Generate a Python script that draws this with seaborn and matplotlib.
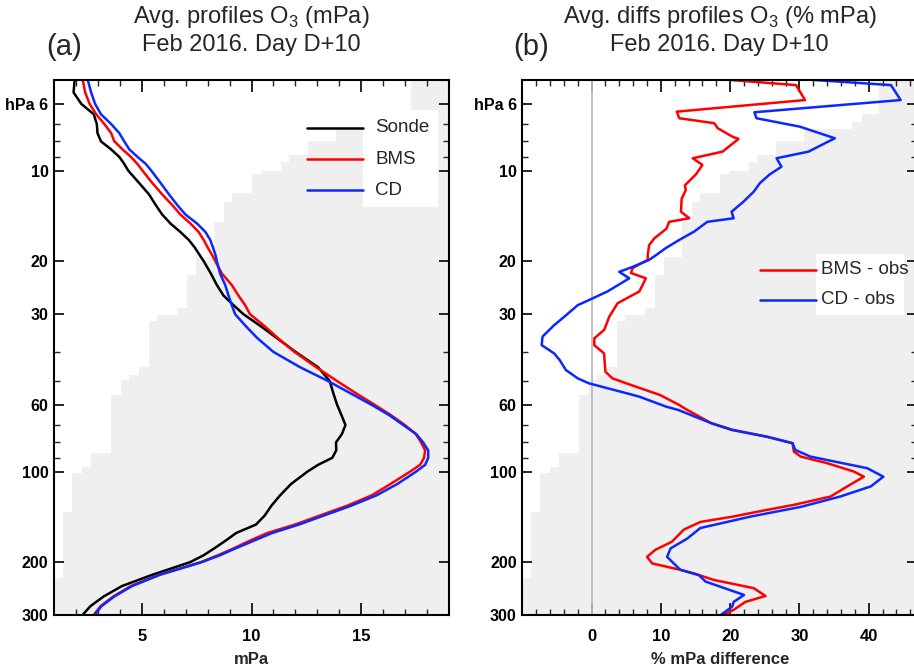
import pandas as pd
import seaborn as sns
import matplotlib.pyplot as plt
from matplotlib import font_manager
from matplotlib.patches import Rectangle
from matplotlib.ticker import FixedLocator, NullFormatter

# ---- data ----
# panel (a): average ozone partial pressure profiles (mPa) on pressure levels (hPa)
levels = [5, 5.5, 6, 6.5, 7, 7.5, 8, 8.5, 9, 9.5, 10, 11, 12, 13, 14, 15, 16, 17, 18, 19,
          20, 22, 24, 26, 28, 30, 33, 36, 40, 45, 50, 55, 60, 65, 70, 75, 80, 85, 90, 95,
          100, 110, 120, 130, 140, 150, 160, 170, 180, 190, 200, 220, 240, 260, 280, 300]
sonde = [1.94, 1.89, 2.24, 2.81, 2.95, 2.98, 3.14, 3.60, 3.97, 4.20, 4.38, 4.88, 5.33, 5.63,
         5.93, 6.31, 6.76, 7.14, 7.41, 7.62, 7.82, 8.15, 8.42, 8.72, 9.18, 9.63, 10.45, 11.15,
         12.0, 13.03, 13.56, 13.73, 13.9, 14.1, 14.28, 14.12, 13.85, 13.86, 13.68, 13.03,
         12.55, 11.8, 11.3, 10.9, 10.6, 10.2, 9.3, 8.8, 8.3, 7.8, 7.2, 5.5, 4.1, 3.26, 2.66, 2.29]
bms = [2.31, 2.42, 2.62, 2.92, 3.29, 3.60, 3.75, 4.12, 4.50, 4.80, 5.03, 5.48, 5.93, 6.38,
       6.76, 7.22, 7.59, 7.82, 8.00, 8.19, 8.35, 8.65, 9.10, 9.40, 9.71, 9.93, 10.62, 11.2,
       11.95, 12.95, 13.89, 14.77, 15.61, 16.36, 16.98, 17.48, 17.73, 17.91, 17.86, 17.68,
       17.23, 16.33, 15.47, 14.34, 13.11, 11.98, 10.72, 9.90, 9.18, 8.45, 7.68, 5.80, 4.50,
       3.70, 3.12, 2.80]
cd = [2.54, 2.69, 2.87, 3.14, 3.60, 3.97, 4.20, 4.43, 4.80, 5.18, 5.43, 5.86, 6.24, 6.61,
      6.99, 7.52, 7.90, 8.12, 8.24, 8.35, 8.42, 8.57, 8.80, 8.95, 9.10, 9.25, 9.76, 10.26,
      10.99, 12.21, 13.48, 14.52, 15.47, 16.28, 16.91, 17.50, 17.82, 18.05, 18.05, 17.91,
      17.50, 16.64, 15.69, 14.52, 13.29, 12.16, 10.94, 10.08, 9.27, 8.54, 7.73, 5.85, 4.56,
      3.75, 3.16, 2.85]

# panel (b): percent differences model - obs
bms_p = [5.0, 5.2, 5.83, 6.37, 6.70, 6.96, 7.23, 7.72, 7.85, 8.65, 9.10, 9.58, 10.3, 11.2,
         11.6, 12.4, 13.7, 14.4, 14.8, 15.6, 16.8, 17.7, 19.1, 19.8, 21.1, 21.9, 22.8, 25.2,
         27.6, 30.6, 33.8, 36.1, 38.0, 40.5, 46.6, 49.0, 50.9, 55.7, 60.0, 62.4, 69.1, 72.7,
         76.6, 80.5, 85.9, 89.2, 93.8, 100, 104, 112, 121, 129, 136, 141, 147, 156, 171, 182,
         192, 202, 212, 218, 229, 244, 259, 271, 288, 300]
bms_diff = [20.0, 29.5, 30.8, 12.3, 12.65, 17.7, 18.2, 20.35, 21.2, 18.9, 14.6, 16.0, 15.05,
            13.46, 13.6, 13.0, 12.9, 14.1, 11.2, 10.8, 9.05, 8.3, 8.1, 8.1, 5.9, 5.7, 7.84,
            6.9, 3.75, 2.55, 1.83, 0.39, 0.39, 1.8, 2.0, 3.0, 5.0, 9.9, 12.6, 13.8, 17.3, 20.4,
            25.3, 29.0, 29.2, 30.2, 34.0, 37.85, 39.3, 36.9, 34.5, 29.2, 23.9, 20.5, 15.7, 13.3,
            11.6, 9.2, 8.0, 8.76, 12.8, 14.8, 17.6, 23.4, 25.1, 22.2, 20.5, 18.9]
cd_p = [5.0, 5.2, 5.83, 6.40, 6.70, 7.15, 7.33, 7.81, 8.65, 9.10, 9.71, 10.3, 11.0, 11.75,
        12.7, 13.7, 14.4, 14.8, 15.95, 17.0, 18.1, 19.1, 19.8, 20.9, 21.7, 22.8, 23.7, 25.2,
        26.9, 28.0, 30.6, 32.6, 35.6, 38.0, 40.5, 42.6, 46.0, 49.0, 50.9, 55.0, 56.4, 60.9,
        62.4, 69.1, 72.7, 76.6, 80.5, 84.8, 89.2, 97.5, 104, 112, 121, 131, 141, 154, 167,
        180, 192, 212, 221, 232, 257, 271, 281, 300]
cd_diff = [32.1, 43.2, 44.6, 23.5, 23.8, 30.1, 31.5, 35.1, 31.3, 26.7, 27.4, 25.7, 24.3,
           23.4, 21.9, 20.2, 20.5, 16.7, 14.8, 12.65, 10.7, 9.3, 8.3, 5.9, 4.0, 5.44, 4.23,
           2.31, -0.33, -2.0, -3.94, -5.38, -7.07, -7.2, -5.4, -4.6, -3.7, -2.0, -0.4, 5.15,
           6.9, 10.8, 12.5, 17.3, 20.2, 25.3, 29.0, 29.4, 31.6, 39.8, 42.1, 40.3, 35.9, 30.2,
           23.0, 15.7, 13.8, 11.4, 10.9, 12.8, 15.5, 16.45, 22.0, 20.5, 20.3, 18.6]

# grey background staircase (fraction of the panel width where shading starts, by level)
cov_p = [5, 6.5, 6.9, 7.3, 8.0, 8.9, 9.4, 10.0, 10.3, 11.9, 12.7, 14.8, 19.4, 22.2, 28.6,
         30.2, 31.6, 44.9, 47.8, 49.6, 55.6, 86.7, 96.5, 101, 136, 225, 300]
cov_frac = [0.903, 0.860, 0.835, 0.714, 0.643, 0.595, 0.575, 0.524, 0.501, 0.451, 0.430,
            0.405, 0.359, 0.337, 0.311, 0.261, 0.241, 0.215, 0.190, 0.170, 0.144, 0.094,
            0.071, 0.046, 0.023, 0.0, 0.0]

p_major = [6, 10, 20, 30, 60, 100, 200, 300]
p_labels = ["hPa 6", "10", "20", "30", "60", "100", "200", "300"]
p_minor = [7, 8, 9, 40, 50, 70, 80, 90]

# ---- style ----
sns.set_style("white")
names = {f.name for f in font_manager.fontManager.ttflist}
narrow = "Liberation Sans Narrow" if "Liberation Sans Narrow" in names else "Liberation Sans"
plt.rcParams["font.family"] = [narrow, "DejaVu Sans"]
plt.rcParams["mathtext.fontset"] = "custom"
plt.rcParams["mathtext.rm"] = narrow

RED, BLUE, SHADE = "#ff0000", "#0a28ff", "#efefef"

left = pd.DataFrame({
    "p": levels * 3,
    "val": sonde + bms + cd,
    "series": ["Sonde"] * len(levels) + ["BMS"] * len(levels) + ["CD"] * len(levels),
})
right = pd.DataFrame({
    "p": bms_p + cd_p,
    "val": bms_diff + cd_diff,
    "series": ["BMS - obs"] * len(bms_p) + ["CD - obs"] * len(cd_p),
})

fig = plt.figure(figsize=(9.14, 6.67), dpi=100)
ax1 = fig.add_axes([0.0591, 0.0777, 0.4322, 0.8024])
ax2 = fig.add_axes([0.5714, 0.0777, 0.4322, 0.8024])


def setup(ax, xlim, xmajor, xminor):
    ax.set_yscale("log")
    ax.fill_betweenx(cov_p, cov_frac, 1, step="post", color=SHADE, lw=0,
                     transform=ax.get_yaxis_transform(), zorder=0)
    ax.set_xlim(*xlim)
    ax.set_ylim(300, 5)
    ax.set_yticks(p_major)
    ax.set_yticklabels(p_labels)
    ax.yaxis.set_minor_locator(FixedLocator(p_minor))
    ax.yaxis.set_minor_formatter(NullFormatter())
    ax.set_xticks(xmajor)
    ax.xaxis.set_minor_locator(FixedLocator(xminor))
    ax.tick_params(axis="x", which="major", direction="in", length=8.5, width=1.2,
                   top=True, bottom=True, pad=10, labelsize=12, colors="black")
    ax.tick_params(axis="x", which="minor", direction="in", length=4.3, width=1.0,
                   top=True, bottom=True)
    ax.tick_params(axis="y", which="major", direction="in", length=7.2, width=1.2,
                   left=True, right=True, pad=4, labelsize=11.5, colors="black")
    ax.tick_params(axis="y", which="minor", direction="in", length=4.3, width=1.0,
                   left=True, right=True)
    for lab in ax.get_xticklabels() + ax.get_yticklabels():
        lab.set_fontweight("bold")
    for sp in ax.spines.values():
        sp.set_color("black")
        sp.set_linewidth(1.5)


def legend_box(ax, entries, x0, x1, xt, box):
    bx0, by0, bx1, by1 = box
    ax.add_patch(Rectangle((bx0, by0), bx1 - bx0, by1 - by0, transform=ax.transAxes,
                           facecolor="white", edgecolor="none", zorder=4))
    for label, color, y in entries:
        ax.plot([x0, x1], [y, y], color=color, lw=1.8, transform=ax.transAxes, zorder=5)
        ax.text(xt, y, label, transform=ax.transAxes, va="center", ha="left",
                fontsize=13.5, family=["Liberation Sans", "DejaVu Sans"], zorder=6)


# panel (a)
setup(ax1, (1, 19), [5, 10, 15], list(range(2, 19)))
sns.lineplot(data=left, x="val", y="p", hue="series", sort=False, estimator=None,
             orient="y", palette={"Sonde": "black", "BMS": RED, "CD": BLUE},
             lw=1.8, legend=False, ax=ax1)
ax1.set_xlabel("mPa", fontsize=12, fontweight="bold", labelpad=6)
ax1.set_ylabel("")
legend_box(ax1, [("Sonde", "black", 0.911), ("BMS", RED, 0.852), ("CD", BLUE, 0.794)],
           0.640, 0.783, 0.813, (0.783, 0.763, 0.972, 0.944))

# panel (b)
setup(ax2, (-10, 47), [0, 10, 20, 30, 40], list(range(-8, 47, 2)))
ax2.axvline(0, color="#bdbdbd", lw=1.3, zorder=1)
sns.lineplot(data=right, x="val", y="p", hue="series", sort=False, estimator=None,
             orient="y", palette={"BMS - obs": RED, "CD - obs": BLUE},
             lw=1.8, legend=False, ax=ax2)
ax2.set_xlabel("% mPa difference", fontsize=12, fontweight="bold", labelpad=6)
ax2.set_ylabel("")
legend_box(ax2, [("BMS - obs", RED, 0.645), ("CD - obs", BLUE, 0.589)],
           0.602, 0.744, 0.755, (0.744, 0.561, 0.966, 0.675))

# titles
fig.text(0.2752, 0.9745, "Avg. profiles O$_3$ (mPa)", ha="center", va="center", fontsize=17)
fig.text(0.2752, 0.9325, "Feb 2016. Day D+10", ha="center", va="center", fontsize=17)
fig.text(0.7875, 0.9745, "Avg. diffs profiles O$_3$ (% mPa)", ha="center", va="center",
         fontsize=17)
fig.text(0.7875, 0.9325, "Feb 2016. Day D+10", ha="center", va="center", fontsize=17)
fig.text(0.070, 0.930, "(a)", ha="center", va="center", fontsize=21)
fig.text(0.581, 0.930, "(b)", ha="center", va="center", fontsize=21)

fig.savefig("out.png", dpi=100)
